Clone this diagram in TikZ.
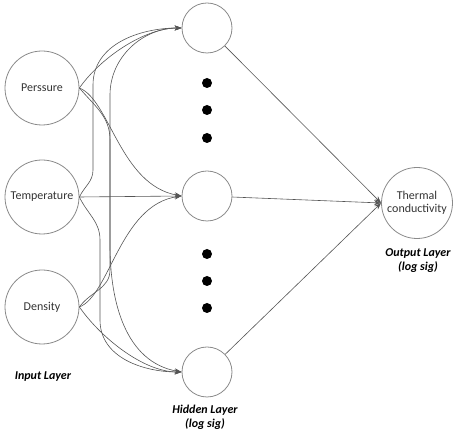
\documentclass[tikz,border=0pt]{standalone}
\usepackage{fontspec}
\setmainfont{Carlito}
\usetikzlibrary{arrows.meta}
\definecolor{edgegray}{HTML}{555555}
\definecolor{circgray}{HTML}{8A8A8A}
\definecolor{txtgray}{HTML}{333333}
\begin{document}
\begin{tikzpicture}[x=1pt,y=-1pt,
  neuron/.style={circle,draw=circgray,line width=0.8pt,inner sep=0pt,align=center,text=txtgray,font=\fontsize{12}{13}\selectfont},
  inp/.style={neuron,minimum size=74pt},
  hid/.style={neuron,minimum size=50pt},
  outn/.style={neuron,minimum size=71pt},
  conn/.style={draw=edgegray,line width=0.6pt,-{Stealth[length=7pt,width=5pt]}},
  dotn/.style={circle,fill=black,inner sep=0pt,minimum size=10pt},
  lab/.style={font=\fontsize{12}{14}\selectfont\bfseries\itshape,text=black,align=center}]
\useasboundingbox (0,0) rectangle (459,435);
\node[inp] (P) at (42,88) {Perssure};
\node[inp] (T) at (42,197) {Temperature};
\node[inp] (D) at (42,307) {Density};
\node[hid] (H1) at (207,28) {};
\node[hid] (H2) at (207,196) {};
\node[hid] (H3) at (207,372) {};
\node[outn] (O) at (417,203) {Thermal\\conductivity};
\node[dotn] (d1) at (207,83) {};
\node[dotn] (d2) at (207,110) {};
\node[dotn] (d3) at (207,138) {};
\node[dotn] (d4) at (207,254) {};
\node[dotn] (d5) at (207,281) {};
\node[dotn] (d6) at (207,308) {};
\node[lab] (li) at (43,377) {Input Layer};
\node[lab] (lh) at (205,417) {Hidden Layer\\(log sig)};
\node[lab] (lo) at (418,261) {Output Layer\\(log sig)};
\coordinate (t1a) at (93,170); \coordinate (t1b) at (93,85);
\coordinate (d1a) at (110,270); \coordinate (d1b) at (110,95);
\coordinate (p3a) at (110,140); \coordinate (p3b) at (110,245);
\coordinate (t3a) at (100,240); \coordinate (t3b) at (100,320);
% input -> hidden
\draw[conn] (P.east) to[out=55,in=180,looseness=0.8] (H1.west);
\draw[conn] (T.east) to[out=65,in=-90] (t1a) -- (t1b) to[out=90,in=180] (H1.west);
\draw[conn] (D.east) to[out=55,in=-90] (d1a) -- (d1b) to[out=90,in=180] (H1.west);
\draw[conn] (P.east) .. controls (110,100) and (120,185) .. (H2.west);
\draw[conn] (T.east) -- (H2.west);
\draw[conn] (D.east) .. controls (110,295) and (120,205) .. (H2.west);
\draw[conn] (P.east) to[out=-50,in=90] (p3a) -- (p3b) to[out=-90,in=170] (H3.west);
\draw[conn] (T.east) to[out=-65,in=90] (t3a) -- (t3b) to[out=-90,in=180] (H3.west);
\draw[conn] (D.east) to[out=-55,in=180,looseness=0.8] (H3.west);
% hidden -> output
\draw[conn] (H1) -- (O.west);
\draw[conn] (H2) -- (O.west);
\draw[conn] (H3) -- (O.west);
\end{tikzpicture}
\end{document}
